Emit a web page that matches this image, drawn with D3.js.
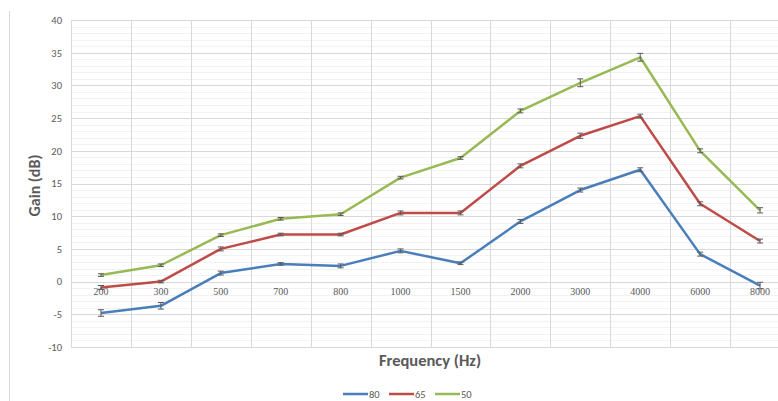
<!DOCTYPE html>
<html lang="en">
<head>
	<meta charset="UTF-8">
	<script src="https://cdn.jsdelivr.net/npm/d3@7"></script>
	<title>Gain vs Frequency</title>
	<style>
		body {
			margin: 0;
			overflow: hidden;
			background: #fff;
			font-family: Calibri, Carlito, "Open Sans", Arial, sans-serif;
		}
	</style>
</head>
<body>
	<svg id="chart" width="778" height="401"></svg>
	<script>
		// category labels (Hz)
		const frequencies = ['200', '300', '500', '700', '800', '1000', '1500', '2000', '3000', '4000', '6000', '8000'];
		const seriesNames = ['80', '65', '50'];
		const seriesColors = ['#4a7ebb', '#be4b48', '#98b954'];

		// gain values (dB)
		const gain80 = [-4.8, -3.7, 1.3, 2.7, 2.4, 4.7, 2.8, 9.2, 14.0, 17.1, 4.2, -0.6];
		const gain65 = [-0.9, 0.0, 5.0, 7.2, 7.2, 10.5, 10.5, 17.7, 22.3, 25.3, 11.9, 6.2];
		const gain50 = [1.0, 2.5, 7.1, 9.6, 10.3, 15.9, 18.9, 26.1, 30.4, 34.3, 20.0, 10.9];

		// error bar half-widths (dB)
		const err80 = [0.5, 0.5, 0.3, 0.2, 0.3, 0.3, 0.2, 0.3, 0.3, 0.3, 0.3, 0.5];
		const err65 = [0.3, 0.2, 0.3, 0.2, 0.2, 0.3, 0.3, 0.3, 0.4, 0.3, 0.3, 0.3];
		const err50 = [0.2, 0.2, 0.2, 0.2, 0.2, 0.2, 0.2, 0.3, 0.6, 0.6, 0.3, 0.4];

		const yTicks = [-10, -5, 0, 5, 10, 15, 20, 25, 30, 35, 40];

		const series = [
			{ name: seriesNames[0], color: seriesColors[0], values: gain80, errs: err80 },
			{ name: seriesNames[1], color: seriesColors[1], values: gain65, errs: err65 },
			{ name: seriesNames[2], color: seriesColors[2], values: gain50, errs: err50 }
		];

		const svg = d3.select('#chart');

		const plotLeft = 71, plotTop = 20, plotBottom = 347;

		const x = d3.scaleBand()
			.domain(frequencies)
			.range([plotLeft, 790]);

		const y = d3.scaleLinear()
			.domain([-10, 40])
			.range([plotBottom, plotTop]);

		// chart frame left edge
		svg.append('line')
			.attr('x1', 9.5).attr('x2', 9.5)
			.attr('y1', 11).attr('y2', 401)
			.attr('stroke', '#d9d9d9');

		// minor horizontal gridlines
		svg.append('g')
			.selectAll('line')
			.data(d3.range(-10, 41, 1).filter(v => v % 5 !== 0))
			.enter()
			.append('line')
			.attr('x1', plotLeft).attr('x2', 778)
			.attr('y1', d => Math.round(y(d)) + 0.5)
			.attr('y2', d => Math.round(y(d)) + 0.5)
			.attr('stroke', '#f2f2f2');

		// major horizontal gridlines
		svg.append('g')
			.selectAll('line')
			.data(yTicks)
			.enter()
			.append('line')
			.attr('x1', plotLeft).attr('x2', 778)
			.attr('y1', d => Math.round(y(d)) + 0.5)
			.attr('y2', d => Math.round(y(d)) + 0.5)
			.attr('stroke', '#d9d9d9');

		// vertical gridlines between categories
		svg.append('g')
			.selectAll('line')
			.data(frequencies)
			.enter()
			.append('line')
			.attr('x1', d => Math.round(x(d)) + 0.5)
			.attr('x2', d => Math.round(x(d)) + 0.5)
			.attr('y1', plotTop).attr('y2', plotBottom)
			.attr('stroke', '#d9d9d9');

		// y axis labels
		const yAxis = d3.axisLeft(y).tickValues(yTicks).tickSize(0).tickPadding(9)
			.tickFormat(d => String(d));
		const gy = svg.append('g')
			.attr('transform', `translate(${plotLeft},0)`)
			.call(yAxis);
		gy.select('.domain').remove();
		gy.selectAll('text')
			.attr('fill', '#595959')
			.style('font-size', '10.5px')
			.style('font-family', 'Calibri, Carlito, "Open Sans", sans-serif');

		// x axis labels at the zero line
		const xAxis = d3.axisBottom(x).tickSize(0).tickPadding(6);
		const gx = svg.append('g')
			.attr('transform', `translate(0,${y(0)})`)
			.call(xAxis);
		gx.select('.domain').remove();
		gx.selectAll('text')
			.attr('fill', '#595959')
			.style('font-size', '10px')
			.style('font-family', '"Liberation Serif", "DejaVu Serif", serif');

		const cx = d => x(d) + x.bandwidth() / 2;

		const line = d3.line()
			.x((d, i) => cx(frequencies[i]))
			.y(d => y(d));

		series.forEach(s => {
			svg.append('path')
				.datum(s.values)
				.attr('fill', 'none')
				.attr('stroke', s.color)
				.attr('stroke-width', 2.5)
				.attr('stroke-linejoin', 'round')
				.attr('d', line);

			// error bars
			const eb = svg.append('g')
				.selectAll('g')
				.data(s.values.map((v, i) => ({ v, e: s.errs[i], f: frequencies[i] })))
				.enter()
				.append('g')
				.attr('stroke', '#595959')
				.attr('stroke-width', 1);
			eb.append('line')
				.attr('x1', d => cx(d.f)).attr('x2', d => cx(d.f))
				.attr('y1', d => y(d.v - d.e)).attr('y2', d => y(d.v + d.e));
			eb.append('line')
				.attr('x1', d => cx(d.f) - 3).attr('x2', d => cx(d.f) + 3)
				.attr('y1', d => y(d.v - d.e)).attr('y2', d => y(d.v - d.e));
			eb.append('line')
				.attr('x1', d => cx(d.f) - 3).attr('x2', d => cx(d.f) + 3)
				.attr('y1', d => y(d.v + d.e)).attr('y2', d => y(d.v + d.e));
		});

		// axis titles
		svg.append('text')
			.attr('transform', `translate(40,${(plotTop + plotBottom) / 2 + 2}) rotate(-90)`)
			.attr('text-anchor', 'middle')
			.attr('fill', '#595959')
			.style('font-size', '16px')
			.style('font-weight', 'bold')
			.text('Gain (dB)');

		svg.append('text')
			.attr('x', 430)
			.attr('y', 366)
			.attr('text-anchor', 'middle')
			.attr('fill', '#595959')
			.style('font-size', '16.5px')
			.style('font-weight', 'bold')
			.text('Frequency (Hz)');

		// legend
		const legend = svg.append('g')
			.selectAll('g')
			.data(series)
			.enter()
			.append('g')
			.attr('transform', (d, i) => `translate(${343 + i * 46},394)`);
		legend.append('line')
			.attr('x1', 0).attr('x2', 25)
			.attr('stroke', d => d.color)
			.attr('stroke-width', 2.5);
		legend.append('text')
			.attr('x', 26)
			.attr('dy', '0.35em')
			.attr('fill', '#595959')
			.style('font-size', '10.5px')
			.text(d => d.name);
	</script>
</body>
</html>
